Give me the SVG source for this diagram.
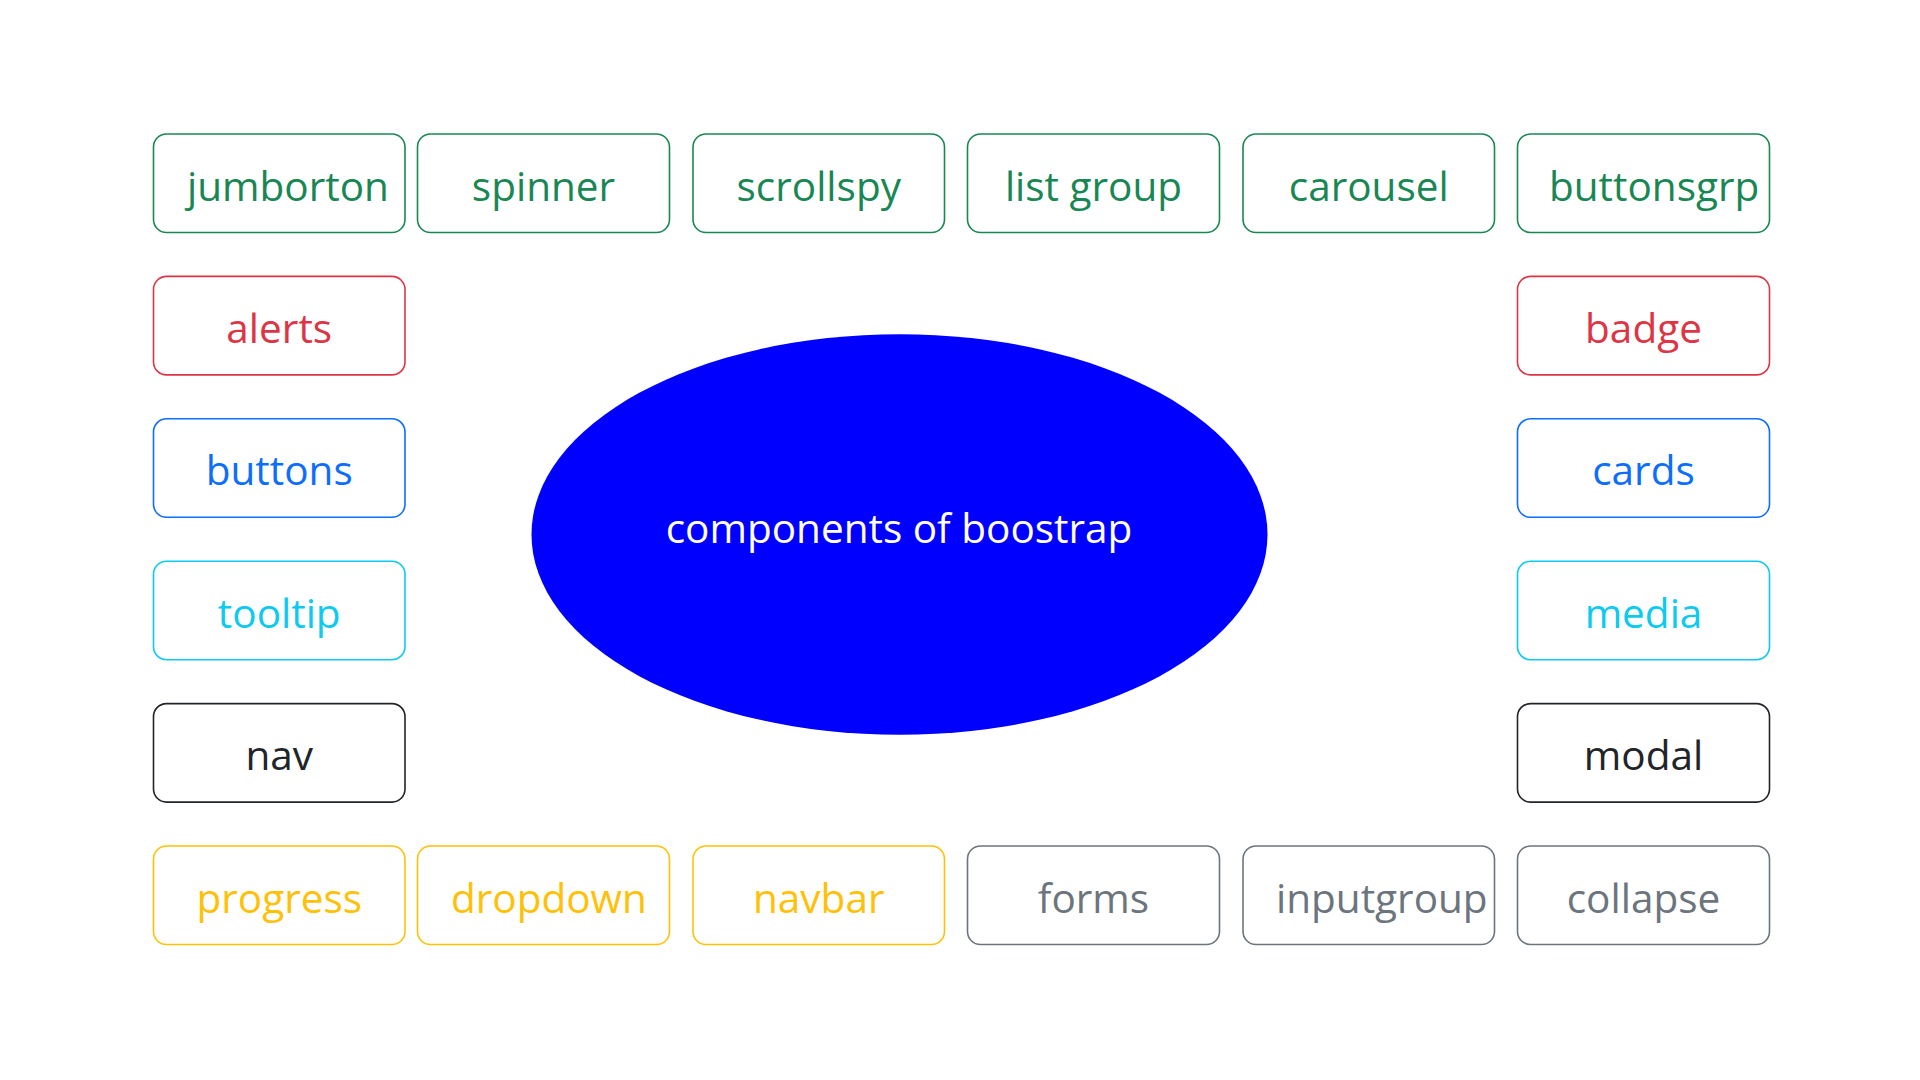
<svg xmlns="http://www.w3.org/2000/svg" width="1920" height="1080" viewBox="0 0 1920 1080">
<style>
  .box { fill: #ffffff; stroke-width: 1.6; }
  .lbl { font-family: "Open Sans", "Noto Sans", "Liberation Sans", sans-serif; font-size: 40.5px; }
  .c { text-anchor: middle; }
  .s { text-anchor: start; }
  .success rect { stroke: #198754; } .success text { fill: #198754; }
  .danger rect { stroke: #dc3545; } .danger text { fill: #dc3545; }
  .primary rect { stroke: #0d6efd; } .primary text { fill: #0d6efd; }
  .info rect { stroke: #0dcaf0; } .info text { fill: #0dcaf0; }
  .dark rect { stroke: #212529; } .dark text { fill: #212529; }
  .warning rect { stroke: #ffc107; } .warning text { fill: #ffc107; }
  .secondary rect { stroke: #6c757d; } .secondary text { fill: #6c757d; }
  .center-text { font-family: "Open Sans", "Noto Sans", "Liberation Sans", sans-serif; font-size: 40.5px; fill: #ffffff; text-anchor: middle; }
</style>
<rect x="0" y="0" width="1920" height="1080" fill="#ffffff"/>
<g id="connectors"/>

<g id="center">
  <ellipse cx="899.5" cy="534.5" rx="368" ry="200.3" fill="#0000ff"/>
  <text class="center-text" x="899" y="543">components of boostrap</text>
</g>

<!-- top row -->
<g id="jumborton" class="success">
  <rect class="box" x="153.5" y="134" width="251.5" height="98.5" rx="13"/>
  <text class="lbl s" x="187" y="200.5">jumborton</text>
</g>
<g id="spinner" class="success">
  <rect class="box" x="417.5" y="134" width="252" height="98.5" rx="13"/>
  <text class="lbl c" x="543.5" y="200.5">spinner</text>
</g>
<g id="scrollspy" class="success">
  <rect class="box" x="693" y="134" width="251.5" height="98.5" rx="13"/>
  <text class="lbl c" x="818.75" y="200.5">scrollspy</text>
</g>
<g id="listgroup" class="success">
  <rect class="box" x="967.5" y="134" width="252" height="98.5" rx="13"/>
  <text class="lbl c" x="1093.5" y="200.5">list group</text>
</g>
<g id="carousel" class="success">
  <rect class="box" x="1243" y="134" width="251.5" height="98.5" rx="13"/>
  <text class="lbl c" x="1368.75" y="200.5">carousel</text>
</g>
<g id="buttonsgrp" class="success">
  <rect class="box" x="1517.5" y="134" width="252" height="98.5" rx="13"/>
  <text class="lbl s" x="1549" y="200.5">buttonsgrp</text>
</g>

<!-- left column -->
<g id="alerts" class="danger">
  <rect class="box" x="153.5" y="276.4" width="251.5" height="98.5" rx="13"/>
  <text class="lbl c" x="279.25" y="342.9">alerts</text>
</g>
<g id="buttons" class="primary">
  <rect class="box" x="153.5" y="418.8" width="251.5" height="98.5" rx="13"/>
  <text class="lbl c" x="279.25" y="485.3">buttons</text>
</g>
<g id="tooltip" class="info">
  <rect class="box" x="153.5" y="561.2" width="251.5" height="98.5" rx="13"/>
  <text class="lbl c" x="279.25" y="627.7">tooltip</text>
</g>
<g id="nav" class="dark">
  <rect class="box" x="153.5" y="703.6" width="251.5" height="98.5" rx="13"/>
  <text class="lbl c" x="279.25" y="770.1">nav</text>
</g>

<!-- right column -->
<g id="badge" class="danger">
  <rect class="box" x="1517.5" y="276.4" width="252" height="98.5" rx="13"/>
  <text class="lbl c" x="1643.5" y="342.9">badge</text>
</g>
<g id="cards" class="primary">
  <rect class="box" x="1517.5" y="418.8" width="252" height="98.5" rx="13"/>
  <text class="lbl c" x="1643.5" y="485.3">cards</text>
</g>
<g id="media" class="info">
  <rect class="box" x="1517.5" y="561.2" width="252" height="98.5" rx="13"/>
  <text class="lbl c" x="1643.5" y="627.7">media</text>
</g>
<g id="modal" class="dark">
  <rect class="box" x="1517.5" y="703.6" width="252" height="98.5" rx="13"/>
  <text class="lbl c" x="1643.5" y="770.1">modal</text>
</g>

<!-- bottom row -->
<g id="progress" class="warning">
  <rect class="box" x="153.5" y="846" width="251.5" height="98.5" rx="13"/>
  <text class="lbl c" x="279.25" y="912.5">progress</text>
</g>
<g id="dropdown" class="warning">
  <rect class="box" x="417.5" y="846" width="252" height="98.5" rx="13"/>
  <text class="lbl s" x="451" y="912.5">dropdown</text>
</g>
<g id="navbar" class="warning">
  <rect class="box" x="693" y="846" width="251.5" height="98.5" rx="13"/>
  <text class="lbl c" x="818.75" y="912.5">navbar</text>
</g>
<g id="forms" class="secondary">
  <rect class="box" x="967.5" y="846" width="252" height="98.5" rx="13"/>
  <text class="lbl c" x="1093.5" y="912.5">forms</text>
</g>
<g id="inputgroup" class="secondary">
  <rect class="box" x="1243" y="846" width="251.5" height="98.5" rx="13"/>
  <text class="lbl s" x="1276" y="912.5">inputgroup</text>
</g>
<g id="collapse" class="secondary">
  <rect class="box" x="1517.5" y="846" width="252" height="98.5" rx="13"/>
  <text class="lbl c" x="1643.5" y="912.5">collapse</text>
</g>
</svg>
